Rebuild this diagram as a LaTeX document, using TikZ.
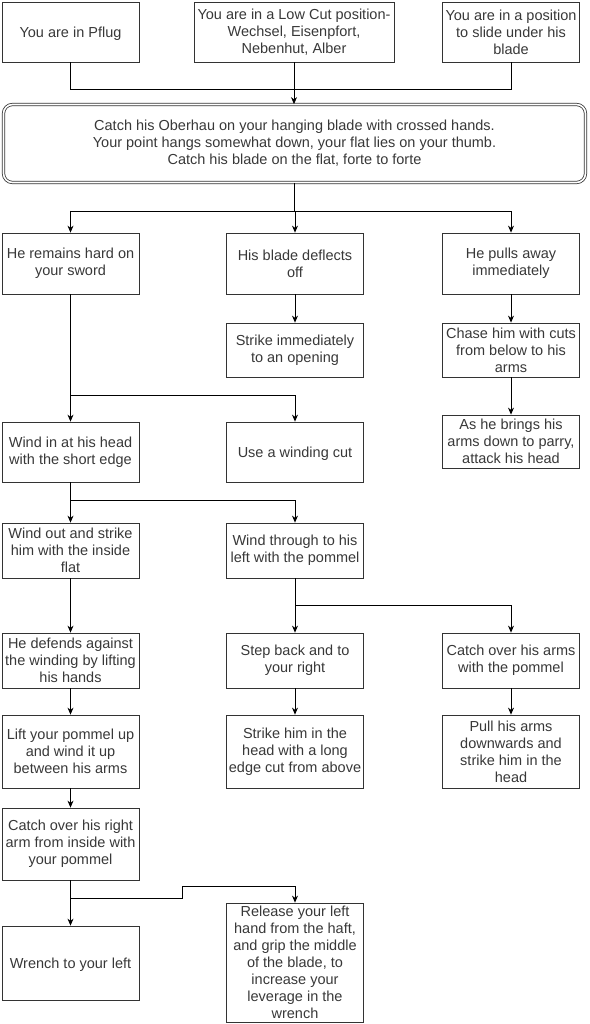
\documentclass[tikz,border=0pt]{standalone}
\usepackage{fontspec}
\setmainfont{Liberation Sans}
\usetikzlibrary{arrows.meta}

\begin{document}
\begin{tikzpicture}[x=1pt,y=-1pt,line width=0.8pt,
    box/.style={draw=black!80,text=black!78,align=center,inner sep=0pt,
        minimum width=137pt,font=\fontsize{14.5}{17}\selectfont,
        execute at begin node={\rule{0pt}{14pt}}},
    mainbox/.style={box,double=white,double distance=1.6pt,rounded corners=9pt,
        minimum width=582pt,minimum height=78pt},
    arr/.style={-{Stealth[length=7pt,width=6pt]}}]
    \pgfmathsetmacro{\xl}{70.5}
    \pgfmathsetmacro{\xm}{295}
    \pgfmathsetmacro{\xr}{511}

    \useasboundingbox (0,0) rectangle (589,1024);

    % starting positions
    \node[box,minimum height=60pt] (pflug) at (\xl,32) {You are in Pflug};
    \node[box,minimum height=60pt,minimum width=200pt] (lowcut) at (294,32) {You are in a Low Cut position-\\Wechsel, Eisenpfort,\\Nebenhut, Alber};
    \node[box,minimum height=60pt] (slide) at (\xr,32) {You are in a position\\to slide under his\\blade};
    \node[mainbox] (catch) at (294.5,143.5) {Catch his Oberhau on your hanging blade with crossed hands.\\Your point hangs somewhat down, your flat lies on your thumb.\\Catch his blade on the flat, forte to forte};

    % his reaction
    \node[box,minimum height=61pt] (remain) at (\xl,263.5) {He remains hard on\\your sword};
    \node[box,minimum height=61pt] (deflect) at (\xm,263.5) {His blade deflects\\off};
    \node[box,minimum height=61pt] (pulls) at (\xr,263.5) {He pulls away\\immediately};
    \node[box,minimum height=54pt] (strike) at (\xm,350) {Strike immediately\\to an opening};
    \node[box,minimum height=54pt] (chase) at (\xr,350) {Chase him with cuts\\from below to his\\arms};
    \node[box,minimum height=53pt] (brings) at (\xr,441.5) {As he brings his\\arms down to parry,\\attack his head};

    % winding
    \node[box,minimum height=60pt] (windin) at (\xl,452) {Wind in at his head\\with the short edge};
    \node[box,minimum height=60pt] (windcut) at (\xm,452) {Use a winding cut};
    \node[box,minimum height=55pt] (windout) at (\xl,550.5) {Wind out and strike\\him with the inside\\flat};
    \node[box,minimum height=55pt] (windthrough) at (\xm,550.5) {Wind through to his\\left with the pommel};
    \node[box,minimum height=55pt] (defends) at (\xl,660.5) {He defends against\\the winding by lifting\\his hands};
    \node[box,minimum height=55pt] (stepback) at (\xm,660.5) {Step back and to\\your right};
    \node[box,minimum height=55pt] (catcharms) at (\xr,660.5) {Catch over his arms\\with the pommel};
    \node[box,minimum height=73pt] (lift) at (\xl,751.5) {Lift your pommel up\\and wind it up\\between his arms};
    \node[box,minimum height=73pt] (longedge) at (\xm,751.5) {Strike him in the\\head with a long\\edge cut from above};
    \node[box,minimum height=73pt] (pullarms) at (\xr,751.5) {Pull his arms\\downwards and\\strike him in the\\head};
    \node[box,minimum height=72pt] (rightarm) at (\xl,844) {Catch over his right\\arm from inside with\\your pommel};
    \node[box,minimum height=74pt] (wrench) at (\xl,963) {Wrench to your left};
    \node[box,minimum height=119pt] (release) at (\xm,962.5) {Release your left\\hand from the haft,\\and grip the middle\\of the blade, to\\increase your\\leverage in the\\wrench};

    \coordinate (j0) at (\xl,89);
    \coordinate (j1) at (\xl,211);
    \coordinate (j2) at (\xl,395);
    \coordinate (j3) at (\xl,500);
    \coordinate (j4) at (\xm,605);
    \coordinate (j5) at (\xl,898);

    \draw (pflug.south) -- (j0) -| (slide.south);
    \draw[arr] (lowcut.south) -- (lowcut.south |- catch.north);
    \draw (catch.south) -- (catch.south |- j1);
    \draw[arr] (j1) -- (remain.north);
    \draw[arr] (j1) -| (deflect.north);
    \draw[arr] (j1) -| (pulls.north);
    \draw[arr] (deflect) -- (strike);
    \draw[arr] (pulls) -- (chase);
    \draw[arr] (chase) -- (brings);
    \draw[arr] (remain) -- (windin);
    \draw[arr] (j2) -| (windcut.north);
    \draw[arr] (windin) -- (windout);
    \draw[arr] (j3) -| (windthrough.north);
    \draw[arr] (windout) -- (defends);
    \draw[arr] (windthrough) -- (stepback);
    \draw[arr] (j4) -| (catcharms.north);
    \draw[arr] (stepback) -- (longedge);
    \draw[arr] (catcharms) -- (pullarms);
    \draw[arr] (defends) -- (lift);
    \draw[arr] (lift) -- (rightarm);
    \draw[arr] (rightarm) -- (wrench);
    \draw[arr] (j5) -- (182,898) -- (182,886) -| (release.north);

\end{tikzpicture}
\end{document}
